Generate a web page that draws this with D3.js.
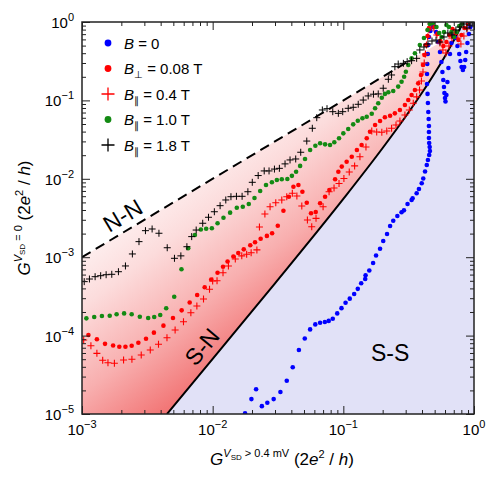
<!DOCTYPE html>
<html>
<head>
<meta charset="utf-8">
<script src="https://cdn.jsdelivr.net/npm/d3@7"></script>
<style>
  body { margin: 0; background: #fff; }
  svg text { font-family: "Liberation Sans", Arial, sans-serif; fill: #000; }
</style>
</head>
<body>
<div id="chart"></div>
<script>
// [G(Vsd > 0.4 mV), G(Vsd = 0)] in units of 2e^2/h
const bZero = [
  [1.77e-2,1.02e-5],[1.98e-2,1.55e-5],[2.15e-2,2.07e-5],[2.38e-2,1.26e-5],[2.62e-2,1.39e-5],[2.93e-2,1.55e-5],
  [3.30e-2,1.91e-5],[3.69e-2,2.66e-5],[4.10e-2,3.94e-5],[4.57e-2,6.55e-5],[5.07e-2,9.18e-5],[5.57e-2,1.20e-4],
  [6.10e-2,1.39e-4],[6.64e-2,1.46e-4],[7.22e-2,1.49e-4],[7.73e-2,1.54e-4],[8.30e-2,1.64e-4],[8.98e-2,1.92e-4],
  [9.68e-2,2.24e-4],[0.104,2.63e-4],[0.112,2.96e-4],[0.121,3.40e-4],[0.129,3.95e-4],[0.137,4.65e-4],
  [0.147,5.27e-4],[0.148,5.88e-4],[0.158,6.76e-4],[0.169,8.43e-4],[0.178,1.05e-3],[0.191,1.28e-3],
  [0.202,1.61e-3],[0.216,1.98e-3],[0.228,2.50e-3],[0.241,2.92e-3],[0.259,3.36e-3],[0.279,3.74e-3],
  [0.291,3.96e-3],[0.310,4.77e-3],[0.333,5.37e-3],[0.339,5.64e-3],[0.364,6.53e-3],[0.379,7.41e-3],
  [0.398,8.76e-3],[0.409,1.01e-2],[0.422,1.24e-2],[0.435,1.50e-2],[0.444,1.74e-2],[0.454,2.01e-2],
  [0.460,2.26e-2],[0.458,2.54e-2],[0.454,2.86e-2],[0.452,3.31e-2],[0.452,3.95e-2],[0.452,4.71e-2],
  [0.450,5.79e-2],[0.447,7.11e-2],[0.444,9.27e-2],[0.441,0.121],[0.437,0.162],[0.437,0.217],
  [0.439,0.291],[0.443,0.391],[0.447,0.509],[0.452,0.644],[0.464,0.768],[0.485,0.863],[0.512,0.745],
  [0.532,0.556],[0.549,0.414],[0.563,0.309],[0.573,0.230],[0.582,0.182],[0.589,0.148],[0.594,0.124],
  [0.600,0.107],[0.605,9.68e-2],[0.615,0.117],[0.626,0.172],[0.637,0.259],[0.655,0.391],[0.672,0.540],
  [0.693,0.683],[0.721,0.625],[0.747,0.494],[0.771,0.391],[0.787,0.318],[0.804,0.267],[0.822,0.244],
  [0.841,0.267],[0.857,0.328],[0.871,0.414],[0.891,0.540],[0.914,0.703],[0.938,0.863]
];

const bPerp008 = [
  [1.12e-3,1.02e-4],[1.30e-3,8.97e-5],[1.50e-3,7.85e-5],[1.73e-3,7.48e-5],[1.93e-3,7.22e-5],[2.15e-3,7.22e-5],
  [2.40e-3,7.43e-5],[2.70e-3,8.11e-5],[3.09e-3,9.12e-5],[3.55e-3,1.09e-4],[4.20e-3,1.34e-4],[4.97e-3,1.68e-4],
  [5.79e-3,2.10e-4],[6.67e-3,2.64e-4],[7.61e-3,3.30e-4],[8.69e-3,4.13e-4],[9.75e-3,5.20e-4],[1.09e-2,6.32e-4],
  [1.20e-2,7.57e-4],[1.30e-2,8.81e-4],[1.44e-2,1.02e-3],[1.57e-2,1.13e-3],[1.73e-2,1.26e-3],[1.94e-2,1.42e-3],
  [2.11e-2,1.55e-3],[2.33e-2,1.72e-3],[2.60e-2,1.87e-3],[2.85e-2,2.02e-3],[3.15e-2,2.52e-3],[3.48e-2,3.92e-3],
  [3.83e-2,5.91e-3],[4.15e-2,7.93e-3],[4.53e-2,8.34e-3],[4.86e-2,6.84e-3],[5.25e-2,4.95e-3],[5.66e-2,3.63e-3],
  [6.15e-2,3.77e-3],[6.64e-2,4.87e-3],[7.25e-2,5.91e-3],[7.82e-2,7.20e-3],[8.65e-2,9.86e-3],[9.16e-2,1.23e-2],
  [9.73e-2,1.43e-2],[0.106,1.65e-2],[0.116,1.91e-2],[0.127,2.33e-2],[0.138,2.70e-2],[0.151,3.29e-2],
  [0.160,3.99e-2],[0.175,4.85e-2],[0.191,5.46e-2],[0.208,6.09e-2],[0.228,6.38e-2],[0.248,6.84e-2],
  [0.271,7.55e-2],[0.296,8.74e-2],[0.314,0.101],[0.333,0.117],[0.353,0.136],[0.374,0.165],[0.393,0.211],
  [0.407,0.283],[0.418,0.379],[0.429,0.509],[0.441,0.663],[0.452,0.838],[0.472,0.971],[0.498,0.863],
  [0.525,0.703],[0.553,0.572],[0.583,0.494],[0.615,0.556],[0.648,0.683],[0.684,0.815],[0.721,0.724],
  [0.760,0.589],[0.802,0.683],[0.845,0.838],[0.900,0.943]
];

const bPar04 = [
  [1.03e-3,8.79e-5],[1.17e-3,7.43e-5],[1.30e-3,5.94e-5],[1.44e-3,4.84e-5],[1.58e-3,4.51e-5],[1.77e-3,4.43e-5],
  [2.08e-3,4.89e-5],[2.41e-3,4.99e-5],[2.84e-3,5.66e-5],[3.33e-3,6.55e-5],[3.85e-3,7.74e-5],[4.47e-3,9.40e-5],
  [5.16e-3,1.18e-4],[5.98e-3,1.50e-4],[6.81e-3,1.96e-4],[7.57e-3,2.39e-4],[8.51e-3,2.93e-4],[9.46e-3,3.90e-4],
  [1.00e-2,4.97e-4],[1.08e-2,5.01e-4],[1.20e-2,6.34e-4],[1.32e-2,7.73e-4],[1.49e-2,9.49e-4],[1.67e-2,1.04e-3],
  [1.82e-2,1.09e-3],[1.97e-2,1.14e-3],[2.18e-2,1.24e-3],[2.28e-2,2.43e-3],[2.51e-2,3.56e-3],[2.75e-2,4.41e-3],
  [3.04e-2,4.95e-3],[3.38e-2,5.37e-3],[3.69e-2,5.91e-3],[4.07e-2,6.53e-3],[4.41e-2,6.04e-3],[4.81e-2,4.50e-3],
  [5.31e-2,2.98e-3],[5.73e-2,2.45e-3],[6.18e-2,3.13e-3],[7.00e-2,4.41e-3],[7.78e-2,6.84e-3],[8.49e-2,7.63e-3],
  [9.27e-2,8.71e-3],[0.101,1.01e-2],[0.111,1.22e-2],[0.122,1.46e-2],[0.134,1.91e-2],[0.149,2.54e-2],
  [0.165,4.07e-2],[0.180,3.95e-2],[0.197,3.92e-2],[0.215,4.07e-2],[0.234,4.41e-2],[0.253,4.85e-2],
  [0.271,5.46e-2],[0.296,6.51e-2],[0.320,7.55e-2],[0.343,9.18e-2],[0.364,0.111],[0.383,0.136],[0.396,0.177],
  [0.407,0.230],[0.416,0.300],[0.425,0.391],[0.433,0.509],[0.442,0.644],[0.452,0.791],[0.468,0.943],
  [0.493,0.838],[0.520,0.683],[0.549,0.540],[0.578,0.440],[0.610,0.403],[0.643,0.494],[0.678,0.625],
  [0.715,0.745],[0.753,0.625],[0.794,0.524],[0.837,0.663],[0.883,0.815]
];

const bPar10 = [
  [1.08e-3,1.66e-4],[1.24e-3,1.73e-4],[1.42e-3,1.78e-4],[1.63e-3,1.79e-4],[1.84e-3,1.87e-4],[2.10e-3,1.92e-4],
  [2.40e-3,1.87e-4],[2.77e-3,1.74e-4],[3.21e-3,1.68e-4],[3.57e-3,1.73e-4],[3.97e-3,1.83e-4],[4.41e-3,2.23e-4],
  [5.08e-3,3.13e-4],[5.77e-3,7.01e-4],[6.50e-3,1.30e-3],[7.31e-3,1.92e-3],[8.12e-3,2.26e-3],[8.92e-3,2.31e-3],
  [9.86e-3,2.34e-3],[1.09e-2,2.71e-3],[1.21e-2,3.19e-3],[1.36e-2,3.70e-3],[1.53e-2,4.28e-3],[1.70e-2,4.41e-3],
  [1.89e-2,4.77e-3],[2.09e-2,5.69e-3],[2.31e-2,6.98e-3],[2.56e-2,8.34e-3],[2.84e-2,9.02e-3],[3.10e-2,9.66e-3],
  [3.38e-2,9.86e-3],[3.73e-2,9.93e-3],[4.04e-2,1.09e-2],[4.35e-2,1.23e-2],[4.67e-2,1.46e-2],[5.09e-2,1.79e-2],
  [5.57e-2,2.33e-2],[6.11e-2,2.64e-2],[6.64e-2,2.84e-2],[7.25e-2,2.75e-2],[7.91e-2,2.70e-2],[8.53e-2,2.92e-2],
  [9.27e-2,3.29e-2],[0.100,3.80e-2],[0.109,4.32e-2],[0.119,4.95e-2],[0.129,5.51e-2],[0.140,5.91e-2],
  [0.151,6.19e-2],[0.165,6.77e-2],[0.175,7.93e-2],[0.185,9.18e-2],[0.197,0.108],[0.208,0.121],[0.221,0.127],
  [0.241,0.132],[0.263,0.150],[0.279,0.173],[0.292,0.200],[0.301,0.232],[0.314,0.283],[0.333,0.344],
  [0.353,0.399],[0.385,0.509],[0.414,0.625],[0.441,0.791],[0.459,0.943],[0.485,0.971],[0.516,0.863],
  [0.542,0.724],[0.565,0.644],[0.589,0.745],[0.615,0.916],[0.643,0.863],[0.672,0.745],[0.702,0.644],
  [0.736,0.745],[0.771,0.889],[0.808,0.943]
];

const bPar18 = [
  [1.04e-3,4.88e-4],[1.14e-3,5.27e-4],[1.26e-3,5.64e-4],[1.39e-3,5.81e-4],[1.53e-3,5.98e-4],[1.69e-3,6.05e-4],
  [1.90e-3,6.53e-4],[2.15e-3,7.73e-4],[2.43e-3,1.10e-3],[2.73e-3,1.58e-3],[3.06e-3,2.18e-3],[3.44e-3,2.29e-3],
  [3.88e-3,2.02e-3],[4.49e-3,1.32e-3],[5.10e-3,9.68e-4],[5.71e-3,1.04e-3],[6.35e-3,1.36e-3],[6.91e-3,1.83e-3],
  [7.48e-3,2.22e-3],[8.39e-3,2.71e-3],[9.29e-3,3.23e-3],[1.03e-2,3.80e-3],[1.14e-2,4.54e-3],[1.26e-2,5.37e-3],
  [1.38e-2,5.91e-3],[1.52e-2,5.98e-3],[1.68e-2,5.98e-3],[1.86e-2,6.84e-3],[2.01e-2,9.02e-3],[2.23e-2,1.10e-2],
  [2.48e-2,1.26e-2],[2.70e-2,1.26e-2],[2.97e-2,1.33e-2],[3.24e-2,1.36e-2],[3.58e-2,1.55e-2],[3.91e-2,1.74e-2],
  [4.32e-2,1.79e-2],[4.72e-2,2.18e-2],[5.25e-2,3.03e-2],[5.79e-2,4.41e-2],[6.26e-2,6.02e-2],[6.91e-2,7.55e-2],
  [7.50e-2,7.84e-2],[8.30e-2,7.18e-2],[9.16e-2,6.84e-2],[9.89e-2,7.18e-2],[0.109,7.93e-2],[0.119,8.17e-2],
  [0.130,8.92e-2],[0.142,0.101],[0.155,0.114],[0.170,0.120],[0.185,0.121],[0.202,0.143],[0.221,0.186],
  [0.234,0.211],[0.248,0.269],[0.263,0.291],[0.288,0.297],[0.308,0.312],[0.333,0.321],[0.364,0.344],
  [0.385,0.440],[0.414,0.480],[0.444,0.524],[0.477,0.572],[0.512,0.589],[0.549,0.556],[0.589,0.644],
  [0.631,0.724],[0.678,0.683],[0.727,0.791],[0.780,0.863],[0.837,0.943],[0.883,0.838],[0.931,0.916],[0.981,0.971]
];

// S-N boundary (G_S vs G_N), N-N is G0 = G
const snLine = [
  [4.47e-3,1.0e-5],[0.01,5.05e-5],[0.03,4.64e-4],[0.1,5.54e-3],[0.2,2.47e-2],[0.3,6.23e-2],
  [0.4,0.125],[0.5,0.222],[0.6,0.367],[0.7,0.580],[0.764,0.764],[0.8,0.889],[0.828,1.0]
];
const nnLine = [[1e-3,1e-3],[0.34,0.34]];
const nnFill = [[1e-3,1e-3],[0.764,0.764]];

const xMajors = [1e-3, 1e-2, 1e-1, 1];
const yMajors = [1e-5, 1e-4, 1e-3, 1e-2, 1e-1, 1];

// Define dimensions and margins
const margin = { top: 22, right: 21, bottom: 66, left: 82 };
const width = 495 - margin.left - margin.right;
const height = 480 - margin.top - margin.bottom;

const root = d3.select("#chart")
    .append("svg")
    .attr("width", width + margin.left + margin.right)
    .attr("height", height + margin.top + margin.bottom);

const svg = root.append("g")
    .attr("transform", `translate(${margin.left},${margin.top})`);

const x = d3.scaleLog().domain([1e-3, 1]).range([0, width]);
const y = d3.scaleLog().domain([1e-5, 1]).range([height, 0]);

const defs = root.append("defs");
defs.append("clipPath").attr("id", "plotClip")
    .append("rect").attr("width", width).attr("height", height);

// red fade between the two lines
const grad = defs.append("linearGradient")
    .attr("id", "redFade")
    .attr("gradientUnits", "userSpaceOnUse")
    .attr("x1", x(5e-3)).attr("y1", y(1.3e-5))
    .attr("x2", x(5e-3) - 130).attr("y2", y(1.3e-5) - 170);
grad.append("stop").attr("offset", 0).attr("stop-color", "rgb(242,118,118)");
grad.append("stop").attr("offset", 0.3).attr("stop-color", "rgb(248,175,175)");
grad.append("stop").attr("offset", 0.62).attr("stop-color", "rgb(252,220,220)");
grad.append("stop").attr("offset", 1).attr("stop-color", "#ffffff");

const plot = svg.append("g").attr("clip-path", "url(#plotClip)");

const line = d3.line().x(d => x(d[0])).y(d => y(d[1]));

// S-S region
const ssArea = snLine.filter(d => d[0] !== 0.764).concat([[1, 1], [1, 1e-5]]);
plot.append("path")
    .attr("d", line(ssArea) + "Z")
    .style("fill", "#e1e1f7");

// S-N region
const snBelow = snLine.filter(d => d[0] <= 0.764).slice().reverse();
const snArea = nnFill.concat(snBelow).concat([[1e-3, 1e-5]]);
plot.append("path")
    .attr("d", line(snArea) + "Z")
    .style("fill", "url(#redFade)");

// boundary lines
plot.append("path")
    .attr("d", line.curve(d3.curveMonotoneX)(snLine))
    .style("fill", "none").style("stroke", "#000").style("stroke-width", 2);
line.curve(d3.curveLinear);

plot.append("path")
    .attr("d", line(nnLine))
    .style("fill", "none").style("stroke", "#000").style("stroke-width", 2)
    .style("stroke-dasharray", "10,6");

// region labels
const nnAngle = Math.atan2(y(1) - y(1e-3), x(1) - x(1e-3)) * 180 / Math.PI;
const snAngle = Math.atan2(y(1e-3) - y(1e-5), x(1e-1) - x(1e-2)) * 180 / Math.PI;
const regionLabels = [
  { t: "N-N", g: 2.05e-3, g0: 3.4e-3, a: nnAngle },
  { t: "S-N", g: 8.3e-3, g0: 7.2e-5, a: snAngle },
  { t: "S-S", g: 0.228, g0: 6.0e-5, a: 0 }
];
svg.selectAll(".region")
    .data(regionLabels)
    .enter()
    .append("text")
    .attr("class", "region")
    .attr("transform", d => `translate(${x(d.g)},${y(d.g0)}) rotate(${d.a})`)
    .attr("text-anchor", "middle")
    .attr("dominant-baseline", "central")
    .style("font-size", "23px")
    .text(d => d.t);

// data
const plusPath = s => `M${-s},0H${s}M0,${-s}V${s}`;

function drawDots(data, color) {
  plot.append("g").selectAll("circle")
      .data(data)
      .enter()
      .append("circle")
      .attr("cx", d => x(d[0]))
      .attr("cy", d => y(d[1]))
      .attr("r", 2.3)
      .style("fill", color);
}
function drawPlus(data, color, w) {
  plot.append("g").selectAll("path")
      .data(data)
      .enter()
      .append("path")
      .attr("d", plusPath(3.5))
      .attr("transform", d => `translate(${x(d[0])},${y(d[1])})`)
      .style("fill", "none")
      .style("stroke", color)
      .style("stroke-width", w);
}
drawDots(bZero, "#0000ff");
drawDots(bPerp008, "#ff0000");
drawPlus(bPar04, "#ff0000", 1.1);
drawDots(bPar10, "#138a13");
drawPlus(bPar18, "#000000", 1);

// ticks (inward, all four sides)
const xMinors = x.ticks().filter(v => !xMajors.some(m => Math.abs(m - v) < m * 1e-6));
const yMinors = y.ticks().filter(v => !yMajors.some(m => Math.abs(m - v) < m * 1e-6));

function ticks(axisFn, scale, values, size, transform) {
  const g = svg.append("g")
      .attr("transform", transform)
      .call(axisFn(scale).tickValues(values).tickSize(-size).tickFormat(""));
  g.select(".domain").remove();
  g.selectAll("line").style("stroke", "#222");
}
[[xMinors, 4], [xMajors, 8]].forEach(([v, s]) => {
  ticks(d3.axisBottom, x, v, s, `translate(0,${height})`);
  ticks(d3.axisTop, x, v, s, "translate(0,0)");
});
[[yMinors, 4], [yMajors, 8]].forEach(([v, s]) => {
  ticks(d3.axisLeft, y, v, s, "translate(0,0)");
  ticks(d3.axisRight, y, v, s, `translate(${width},0)`);
});

svg.append("rect")
    .attr("width", width)
    .attr("height", height)
    .style("fill", "none")
    .style("stroke", "#222")
    .style("stroke-width", 1.5);

// tick labels 10^n
function powLabel(sel, v) {
  const n = Math.round(Math.log10(v));
  sel.append("tspan").text("10");
  sel.append("tspan")
      .attr("dy", -7)
      .style("font-size", "11px")
      .text(n === 0 ? "0" : "\u2212" + Math.abs(n));
}
xMajors.forEach(v => {
  svg.append("text")
      .attr("x", x(v))
      .attr("y", height + 21)
      .attr("text-anchor", "middle")
      .style("font-size", "15px")
      .call(powLabel, v);
});
yMajors.forEach(v => {
  svg.append("text")
      .attr("x", -8)
      .attr("y", y(v) + 6)
      .attr("text-anchor", "end")
      .style("font-size", "15px")
      .call(powLabel, v);
});

// rich text helper for titles and legend
function rich(sel, parts) {
  parts.forEach(p => {
    sel.append("tspan")
        .attr("dy", p.dy || 0)
        .style("font-style", p.i ? "italic" : "normal")
        .style("font-size", p.s ? p.s + "px" : null)
        .text(p.t);
  });
}

const xTitle = [
  { t: "G", i: true, s: 17 },
  { t: "V", i: true, s: 11, dy: -8 },
  { t: "SD", s: 8, dy: 3 },
  { t: " > 0.4 mV", s: 11, dy: -3 },
  { t: "  (2", s: 17, dy: 8 },
  { t: "e", i: true, s: 17 },
  { t: "2", s: 11, dy: -7 },
  { t: " / ", s: 17, dy: 7 },
  { t: "h", i: true, s: 17 },
  { t: ")", s: 17 }
];
const yTitle = [
  { t: "G", i: true, s: 17 },
  { t: "V", i: true, s: 11, dy: -8 },
  { t: "SD", s: 8, dy: 3 },
  { t: " = 0", s: 11, dy: -3 },
  { t: "  (2", s: 17, dy: 8 },
  { t: "e", i: true, s: 17 },
  { t: "2", s: 11, dy: -7 },
  { t: " / ", s: 17, dy: 7 },
  { t: "h", i: true, s: 17 },
  { t: ")", s: 17 }
];

svg.append("text")
    .attr("x", width / 2 + 4)
    .attr("y", height + 51)
    .attr("text-anchor", "middle")
    .call(rich, xTitle);

svg.append("text")
    .attr("transform", `translate(${-52},${height / 2}) rotate(-90)`)
    .attr("text-anchor", "middle")
    .call(rich, yTitle);

// Legend
const legendItems = [
  { sym: "dot", color: "#0000ff", parts: [{ t: "B", i: true }, { t: " = 0" }] },
  { sym: "dot", color: "#ff0000", parts: [{ t: "B", i: true }, { t: "\u22A5", s: 10, dy: 4 }, { t: " = 0.08 T", dy: -4 }] },
  { sym: "plus", color: "#ff0000", parts: [{ t: "B", i: true }, { t: "\u2225", s: 10, dy: 4 }, { t: " = 0.4 T", dy: -4 }] },
  { sym: "dot", color: "#138a13", parts: [{ t: "B", i: true }, { t: "\u2225", s: 10, dy: 4 }, { t: " = 1.0 T", dy: -4 }] },
  { sym: "plus", color: "#000000", parts: [{ t: "B", i: true }, { t: "\u2225", s: 10, dy: 4 }, { t: " = 1.8 T", dy: -4 }] }
];

const legend = svg.append("g")
    .attr("class", "legend")
    .attr("transform", "translate(26,21)");

legend.selectAll(".legend-item")
    .data(legendItems)
    .enter()
    .append("g")
    .attr("class", "legend-item")
    .attr("transform", (d, i) => `translate(0, ${i * 25.5})`)
    .each(function (d) {
        const g = d3.select(this);
        if (d.sym === "dot") {
            g.append("circle").attr("r", 3.4).style("fill", d.color);
        } else {
            g.append("path").attr("d", plusPath(6.5))
                .style("stroke", d.color).style("stroke-width", 1.3).style("fill", "none");
        }
        g.append("text")
            .attr("x", 16)
            .attr("y", 5.5)
            .style("font-size", "15px")
            .call(rich, d.parts);
    });
</script>
</body>
</html>
